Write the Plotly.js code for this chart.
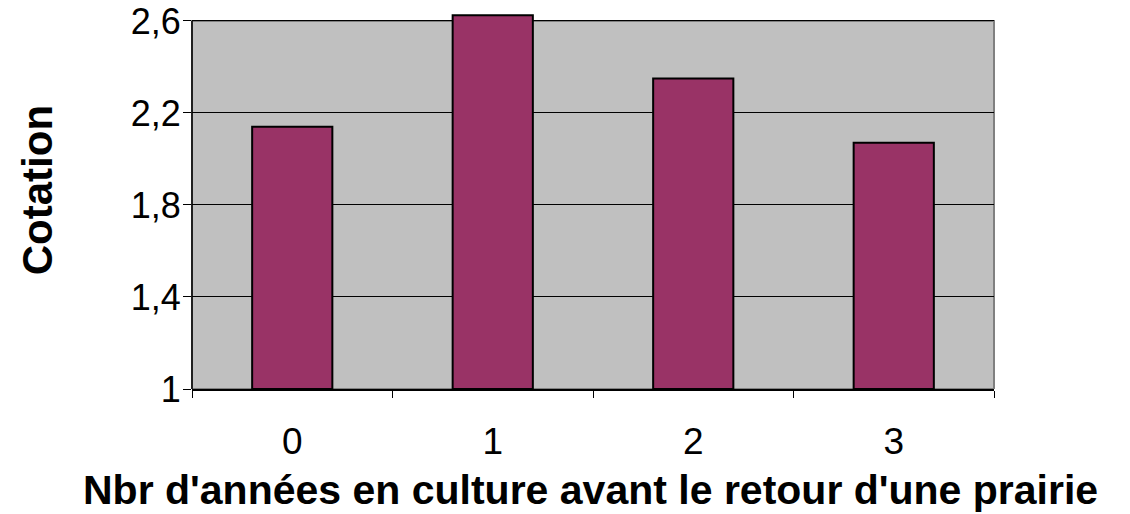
<!DOCTYPE html>
<html>
<head>
<meta charset="utf-8">
<script src="https://cdn.plot.ly/plotly-3.0.1.min.js"></script>
<style>html,body{margin:0;padding:0;background:#fff;}#chart{width:1130px;height:514px;}</style>
</head>
<body>
<div id="chart"></div>
<script>
const categories = ["0", "1", "2", "3"];
const cotation = [2.14, 2.625, 2.35, 2.07];
const yTickVals = [1, 1.4, 1.8, 2.2, 2.6];
const yTickText = ["1", "1,4", "1,8", "2,2", "2,6"];
const xTitle = "Nbr d'années en culture avant le retour d'une prairie";
const yTitle = "Cotation";
const yMin = 1, yMax = 2.6;

const font = "Liberation Sans, Arial, sans-serif";

const trace = {
  type: "bar",
  x: categories,
  y: cotation.map(v => v - yMin),
  base: yMin,
  marker: {color: "#993366", line: {color: "#000000", width: 2}},
  hoverinfo: "skip"
};

const layout = {
  width: 1130, height: 514,
  margin: {l: 192, r: 136, t: 14, b: 125, pad: 0},
  paper_bgcolor: "#ffffff",
  plot_bgcolor: "#ffffff",
  showlegend: false,
  bargap: 0.6,
  separators: ", ",
  font: {family: font, color: "#000000", size: 36},
  xaxis: {
    type: "category",
    tickson: "boundaries",
    ticks: "outside", ticklen: 7, tickcolor: "#000000", tickwidth: 1,
    showline: true, linecolor: "#000000", linewidth: 1.5,
    showgrid: false, zeroline: false,
    tickfont: {family: font, size: 37, color: "#000000"},
    ticklabelstandoff: 19
  },
  yaxis: {
    range: [yMin, yMax + 0.03],
    tickvals: yTickVals, ticktext: yTickText,
    ticks: "outside", ticklen: 8, tickcolor: "#000000", tickwidth: 1,
    showline: false,
    showgrid: true, gridcolor: "#000000", gridwidth: 1,
    zeroline: false,
    tickfont: {family: font, size: 36, color: "#000000"},
    ticklabelstandoff: -5
  },
  shapes: [
    {type: "rect", xref: "paper", yref: "y", x0: 0, x1: 1, y0: yMin, y1: yMax,
     line: {width: 0}, fillcolor: "#c0c0c0", layer: "below"},
    {type: "rect", xref: "paper", yref: "y", x0: 0, x1: 1, y0: yMin, y1: yMax,
     line: {color: "#808080", width: 2}, fillcolor: "rgba(0,0,0,0)", layer: "between"},
    {type: "line", xref: "paper", yref: "y", x0: 0, x1: 0, y0: yMin, y1: yMax,
     line: {color: "#000000", width: 1.5}, layer: "above"}
  ],
  annotations: [
    {text: "<b>" + xTitle + "</b>", xref: "paper", yref: "paper", x: 0.4975, y: 0, yshift: -101,
     xanchor: "center", yanchor: "middle", showarrow: false,
     font: {family: font, size: 41, color: "#000000"}},
    {text: "<b>" + yTitle + "</b>", xref: "paper", yref: "paper", x: 0, xshift: -155, y: 0.53,
     xanchor: "center", yanchor: "middle", showarrow: false, textangle: -90,
     font: {family: font, size: 42, color: "#000000"}}
  ]
};

Plotly.newPlot("chart", [trace], layout, {displayModeBar: false, staticPlot: true});
</script>
</body>
</html>
